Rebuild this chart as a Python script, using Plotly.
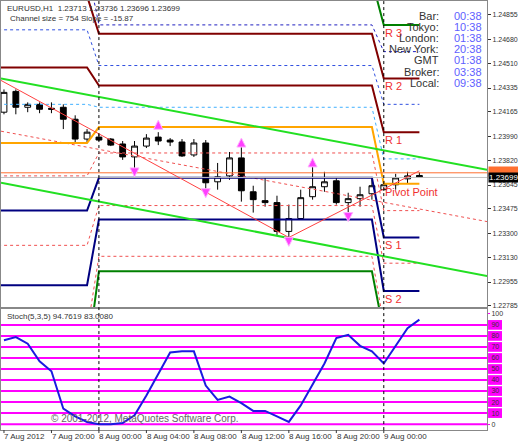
import plotly.graph_objects as go

# hourly bars, 7 Aug 16:00 .. 9 Aug 03:00 (bar index = hours since 7 Aug 16:00)
bars = list(range(36))
opens = [1.24163, 1.24311, 1.24198, 1.24219, 1.24191, 1.24198, 1.24113, 1.23972, 1.23986, 1.23972,
         1.23937, 1.23845, 1.23922, 1.23986, 1.23965, 1.23951, 1.23859, 1.23944, 1.23668, 1.23710,
         1.23838, 1.23597, 1.23534, 1.23520, 1.23315, 1.23407, 1.23562, 1.23633, 1.23675, 1.23520,
         1.23548, 1.23583, 1.23612, 1.23647, 1.23689, 1.23713]
highs = [1.24325, 1.24325, 1.24233, 1.24233, 1.24233, 1.24219, 1.24141, 1.24043, 1.24007, 1.23979,
         1.23958, 1.23958, 1.24007, 1.24021, 1.23979, 1.23972, 1.23972, 1.23965, 1.23802, 1.23880,
         1.23915, 1.23640, 1.23696, 1.23569, 1.23506, 1.23612, 1.23788, 1.23739, 1.23696, 1.23590,
         1.23633, 1.23696, 1.23675, 1.23725, 1.23739, 1.23736]
lows = [1.24148, 1.24148, 1.24163, 1.24156, 1.24156, 1.24043, 1.23951, 1.23951, 1.23958, 1.23922,
        1.23824, 1.23760, 1.23908, 1.23929, 1.23922, 1.23845, 1.23845, 1.23612, 1.23612, 1.23682,
        1.23527, 1.23449, 1.23491, 1.23287, 1.23272, 1.23400, 1.23541, 1.23597, 1.23506, 1.23449,
        1.23491, 1.23541, 1.23604, 1.23612, 1.23654, 1.23696]
closes = [1.24304, 1.24198, 1.24219, 1.24184, 1.24184, 1.24113, 1.23972, 1.24021, 1.23965, 1.23929,
          1.23845, 1.23922, 1.23979, 1.23958, 1.23951, 1.23852, 1.23944, 1.23661, 1.23703, 1.23838,
          1.23604, 1.23541, 1.23520, 1.23315, 1.23407, 1.23555, 1.23633, 1.23668, 1.23520, 1.23548,
          1.23576, 1.23640, 1.23647, 1.23696, 1.23710, 1.23699]

stoch = [76, 79, 73, 57, 48, 14, 7, 2, 0, 0, 1, 8, 26, 46, 65, 66, 66, 35, 22, 25,
         19, 12, 12, 7, 2, 17, 36, 55, 78, 81, 71, 66, 55, 71, 87, 94.7619]
stoch_levels = [10, 20, 30, 40, 50, 60, 70, 80, 90]

# daily pivot levels: 7 Aug, 8 Aug, 9 Aug
day_breaks = [-1, 7, 8, 31, 32, 35]
pivots = {
    "R3": [1.25500, 1.25100, 1.24784],
    "R2": [1.24990, 1.24721, 1.24403],
    "R1": [1.24481, 1.24353, 1.24021],
    "P": [1.23944, 1.24057, 1.23654],
    "S1": [1.23463, 1.23696, 1.23272],
    "S2": [1.22933, 1.23400, 1.22891],
    "S3": [1.22400, 1.23032, 1.22600],
}
pivot_colors = {"R3": "#008000", "R2": "#800000", "R1": "#800000", "P": "#ffa500",
                "S1": "#000080", "S2": "#000080", "S3": "#008000"}
pivot_labels = {"R3": "R 3", "R2": "R 2", "R1": "R 1", "P": "Pivot Point", "S1": "S 1", "S2": "S 2"}
mids = {
    "M5": [1.25200, 1.24784, 1.24594],
    "M4": [1.24749, 1.24495, 1.24219],
    "M3": [1.24219, 1.24198, 1.23831],
    "M2": [1.23710, 1.23873, 1.23463],
    "M1": [1.23216, 1.23499, 1.23089],
    "M0": [1.22600, 1.23138, 1.22650],
}
mid_colors = {"M5": "#2020c0", "M4": "#3050e0", "M3": "#40b0ff",
              "M2": "#f05050", "M1": "#f05050", "M0": "#f05050"}

# regression channel (left edge, right edge)
chan_x = [-0.25, 40.7]
chan_upper = [1.24403, 1.23753]
chan_mid = [1.24028, 1.23385]
chan_lower = [1.23661, 1.22997]

zigzag_x = [-0.25, 24, 35]
zigzag_y = [1.24389, 1.23272, 1.23746]

frac_up_x = [13, 20, 26]
frac_up_y = [1.24106, 1.23979, 1.23838]
frac_dn_x = [11, 17, 24, 29]
frac_dn_y = [1.23703, 1.23555, 1.23209, 1.23385]

price_ticks = [1.24855, 1.24680, 1.24510, 1.24335, 1.24165, 1.23990, 1.23820,
               1.23645, 1.23475, 1.23300, 1.23130, 1.22955, 1.22785]
ask_line = 1.23732
time_ticks = [0, 4, 8, 12, 16, 20, 24, 28, 32]
time_labels = ["7 Aug 2012", "7 Aug 20:00", "8 Aug 00:00", "8 Aug 04:00", "8 Aug 08:00",
               "8 Aug 12:00", "8 Aug 16:00", "8 Aug 20:00", "9 Aug 00:00"]
day_lines = [8, 32]

info_names = ["Bar:", "Tokyo:", "London:", "New York:", "GMT", "Broker:", "Local:"]
info_times = ["00:38", "10:38", "01:38", "20:38", "01:38", "03:38", "09:38"]

W, H = 518, 444
px = lambda v: v / W
py = lambda v: 1 - v / H
Y1_DOM, Y1_RNG = [py(308), 1], [1.22778, 1.24954]
Y2_DOM, Y2_RNG = [py(432), py(310)], [-5.4, 104.5]


def to_paper(v, dom, rng):
    return dom[0] + (v - rng[0]) / (rng[1] - rng[0]) * (dom[1] - dom[0])


fig = go.Figure()


def steps(vals):
    return [vals[0], vals[0], vals[1], vals[1], vals[2], vals[2]]


for k, v in mids.items():
    fig.add_trace(go.Scatter(x=day_breaks, y=steps(v), mode="lines",
                             line=dict(color=mid_colors[k], width=1, dash="dot")))
fig.add_trace(go.Scatter(x=chan_x, y=chan_mid, mode="lines",
                         line=dict(color="#f05050", width=1, dash="dot")))
for k, v in pivots.items():
    fig.add_trace(go.Scatter(x=day_breaks, y=steps(v), mode="lines",
                             line=dict(color=pivot_colors[k], width=2)))
for yy in (chan_upper, chan_lower):
    fig.add_trace(go.Scatter(x=chan_x, y=yy, mode="lines", line=dict(color="#22e022", width=2)))
fig.add_trace(go.Scatter(x=chan_x, y=[ask_line, ask_line], mode="lines",
                         line=dict(color="#ff7030", width=1)))
fig.add_trace(go.Scatter(x=chan_x, y=[closes[-1], closes[-1]], mode="lines",
                         line=dict(color="#c0c0c0", width=1)))
fig.add_trace(go.Scatter(x=zigzag_x, y=zigzag_y, mode="lines", line=dict(color="#ff4040", width=1)))
fig.add_trace(go.Candlestick(x=bars, open=opens, high=highs, low=lows, close=closes,
                             increasing=dict(line=dict(color="black", width=1), fillcolor="white"),
                             decreasing=dict(line=dict(color="black", width=1), fillcolor="black"),
                             whiskerwidth=0))
fig.add_trace(go.Scatter(x=frac_up_x, y=frac_up_y, mode="markers",
                         marker=dict(symbol="arrow-up", size=9, color="#ff40ff",
                                     line=dict(color="#ffb0ff", width=1))))
fig.add_trace(go.Scatter(x=frac_dn_x, y=frac_dn_y, mode="markers",
                         marker=dict(symbol="arrow-down", size=9, color="#ff40ff",
                                     line=dict(color="#ffb0ff", width=1))))

# stochastic panel
for lv in [0] + stoch_levels:
    fig.add_trace(go.Scatter(x=chan_x, y=[lv, lv], xaxis="x2", yaxis="y2", mode="lines",
                             line=dict(color="#ff00ff", width=2)))
fig.add_trace(go.Scatter(x=bars, y=stoch, xaxis="x2", yaxis="y2", mode="lines",
                         line=dict(color="#1a1ae0", width=2)))

ann = []
f8 = dict(family="Liberation Sans", size=8, color="#333")
for k, lab in pivot_labels.items():
    ann.append(dict(x=32, y=pivots[k][2], xref="x", yref="y", text=lab, showarrow=False,
                    xanchor="left", yanchor="top", xshift=-1,
                    font=dict(family="Liberation Sans", size=11, color="#f03030")))
for i, (n, t) in enumerate(zip(info_names, info_times)):
    yy = py(15 + i * 11.2)
    ann.append(dict(x=px(441), y=yy, xref="paper", yref="paper", text=n, showarrow=False,
                    xanchor="right", yanchor="middle", font=dict(family="Liberation Sans", size=11, color="#333")))
    ann.append(dict(x=px(484), y=yy, xref="paper", yref="paper", text=t, showarrow=False,
                    xanchor="right", yanchor="middle", font=dict(family="Liberation Sans", size=11, color="#6060ff")))
ann.append(dict(x=px(4), y=py(1), xref="paper", yref="paper", showarrow=False, xanchor="left", yanchor="top",
                text="EURUSD,H1  1.23713 1.23736 1.23696 1.23699", font=f8))
ann.append(dict(x=px(7), y=py(11), xref="paper", yref="paper", showarrow=False, xanchor="left", yanchor="top",
                text="Channel size = 754 Slope = -15.87", font=f8))
ann.append(dict(x=px(4), y=py(311), xref="paper", yref="paper", showarrow=False, xanchor="left", yanchor="top",
                text="Stoch(5,3,5) 94.7619 83.0080", font=f8))
ann.append(dict(x=px(48), y=py(420), xref="paper", yref="paper", showarrow=False, xanchor="left", yanchor="middle",
                text="© 2001-2012, MetaQuotes Software Corp.", font=dict(family="Liberation Sans", size=10, color="#666")))
for t, lab in zip(time_ticks, time_labels):
    ann.append(dict(x=px(3 + 11.9 * t), y=py(438), xref="paper", yref="paper", text=lab, showarrow=False,
                    xanchor="left", yanchor="middle", xshift=-2, font=f8))
ann.append(dict(x=px(488), y=to_paper(ask_line, Y1_DOM, Y1_RNG) + 0.004, xref="paper", yref="paper",
                text="1.23732", showarrow=False, xanchor="left", bgcolor="#ff7030", borderpad=0,
                font=dict(family="Liberation Sans", size=8, color="#ff7030")))
ann.append(dict(x=px(488), y=to_paper(closes[-1], Y1_DOM, Y1_RNG), xref="paper", yref="paper",
                text="1.23699", showarrow=False, xanchor="left", bgcolor="black", borderpad=0,
                font=dict(family="Liberation Sans", size=8, color="white")))

shapes = []
for lv in stoch_levels:
    yp = to_paper(lv, Y2_DOM, Y2_RNG)
    shapes.append(dict(type="rect", xref="paper", yref="paper", x0=px(488), x1=px(502),
                       y0=yp - 0.011, y1=yp + 0.011, fillcolor="#ff00ff", line=dict(width=0), layer="below"))
for d in day_lines:
    shapes.append(dict(type="line", xref="x", yref="paper", x0=d, x1=d, y0=py(432), y1=1,
                       line=dict(color="black", width=1, dash="dot")))
for t in time_ticks:
    shapes.append(dict(type="line", xref="x", yref="paper", x0=t, x1=t, y0=py(432), y1=py(435),
                       line=dict(color="#333", width=1)))

xr = [-0.25, 40.7]
tick_font = dict(family="Liberation Sans", size=7, color="#333")
fig.update_layout(
    width=W, height=H, margin=dict(l=0, r=0, t=0, b=0),
    paper_bgcolor="white", plot_bgcolor="rgba(0,0,0,0)", showlegend=False,
    annotations=ann, shapes=shapes,
    xaxis=dict(domain=[0, px(487)], range=xr, showticklabels=False, showgrid=False, zeroline=False,
               rangeslider=dict(visible=False), showline=True, mirror=True, linecolor="#888", anchor="y"),
    yaxis=dict(domain=Y1_DOM, range=Y1_RNG, side="right", tickvals=price_ticks,
               ticktext=[f"{p:.5f}" for p in price_ticks], ticks="outside", ticklen=3, tickcolor="#333",
               tickfont=tick_font, showgrid=False, zeroline=False, showline=True, mirror=True,
               linecolor="#888", anchor="x"),
    xaxis2=dict(domain=[0, px(487)], range=xr, showticklabels=False, showgrid=False, zeroline=False,
                showline=True, mirror=True, linecolor="#888", anchor="y2"),
    yaxis2=dict(domain=Y2_DOM, range=Y2_RNG, side="right", tickvals=[0] + stoch_levels + [100],
                ticks="outside", ticklen=2, tickcolor="#ff00ff", tickfont=tick_font,
                showgrid=False, zeroline=False, showline=True, mirror=True, linecolor="#888", anchor="x2"),
)
fig.write_html("out.html", config={"displayModeBar": False},
               post_script="document.body.style.margin='0';document.body.style.overflow='hidden';")
